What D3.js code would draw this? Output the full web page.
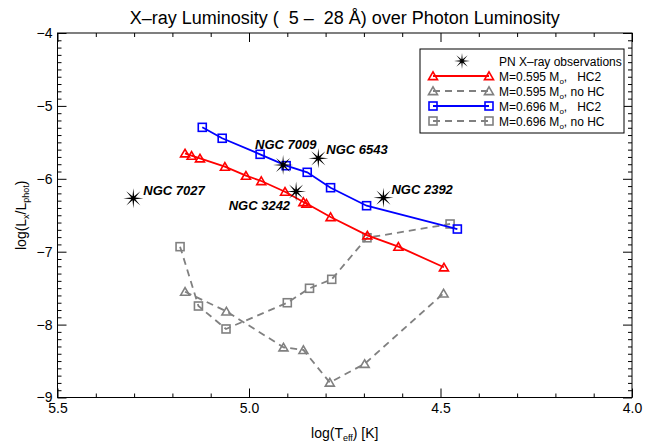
<!DOCTYPE html>
<html>
<head>
<meta charset="utf-8">
<script src="https://cdn.jsdelivr.net/npm/d3@7"></script>
<style>
  body { margin: 0; background: #fff; }
  svg { font-family: "Liberation Sans", Arial, Helvetica, sans-serif; }
</style>
</head>
<body>
<svg id="chart" width="659" height="444"></svg>
<script>
// model tracks: log(Teff), log(Lx/Lphot)
var hc2_595 = [[5.167, -5.650], [5.150, -5.683], [5.128, -5.719], [5.063, -5.834], [5.008, -5.957],
    [4.968, -6.030], [4.906, -6.177], [4.858, -6.318], [4.850, -6.339], [4.787, -6.524],
    [4.691, -6.775], [4.610, -6.931], [4.491, -7.214]];
var nohc_595 = [[5.167, -7.549], [5.059, -7.818], [4.910, -8.311], [4.858, -8.348], [4.789, -8.794],
    [4.698, -8.538], [4.492, -7.571]];
var hc2_696 = [[5.122, -5.294], [5.070, -5.444], [4.971, -5.664], [4.903, -5.820], [4.848, -5.911],
    [4.787, -6.122], [4.693, -6.369], [4.456, -6.689]];
var nohc_696 = [[5.180, -6.931], [5.132, -7.745], [5.060, -8.060], [4.900, -7.700], [4.842, -7.502],
    [4.784, -7.379], [4.692, -6.809], [4.475, -6.620]];

// observed planetary nebulae
var pnNames = ["NGC 7027", "NGC 7009", "NGC 6543", "NGC 3242", "NGC 2392"];
var pnTeff = [5.302, 4.911, 4.819, 4.877, 4.649];
var pnLx = [-6.268, -5.811, -5.719, -6.174, -6.259];

var xTicks = [5.5, 5.0, 4.5, 4.0];
var yTicks = [-9, -8, -7, -6, -5, -4];

(function() {
var svg = d3.select("#chart");
var pL = 57.5, pR = 632, pT = 33, pB = 397.5;

var x = d3.scaleLinear().domain([5.5, 4.0]).range([pL, pR]),
    y = d3.scaleLinear().domain([-9, -4]).range([pB, pT]);

var xMinor = d3.range(41, 55).map(function(d) { return d / 10; }).filter(function(d) { return xTicks.indexOf(d) < 0; }),
    yMinor = d3.range(-89, -40).filter(function(d) { return d % 10 !== 0; }).map(function(d) { return d / 10; });

function styleAxis(g) {
    g.select(".domain").remove();
    g.selectAll("line").attr("stroke", "#000").attr("stroke-width", 1);
    g.selectAll("text").attr("fill", "#000").style("font-size", "14px");
}

// bottom / top
svg.append("g").attr("transform", "translate(0," + pB + ")")
    .call(d3.axisBottom(x).tickValues(xTicks).tickFormat(d3.format(".1f")).tickSizeInner(-9).tickSizeOuter(0).tickPadding(6))
    .call(styleAxis);
svg.append("g").attr("transform", "translate(0," + pB + ")")
    .call(d3.axisBottom(x).tickValues(xMinor).tickFormat("").tickSizeInner(-4).tickSizeOuter(0))
    .call(styleAxis);
svg.append("g").attr("transform", "translate(0," + pT + ")")
    .call(d3.axisTop(x).tickValues(xTicks).tickFormat("").tickSizeInner(-9).tickSizeOuter(0))
    .call(styleAxis);
svg.append("g").attr("transform", "translate(0," + pT + ")")
    .call(d3.axisTop(x).tickValues(xMinor).tickFormat("").tickSizeInner(-4).tickSizeOuter(0))
    .call(styleAxis);

// left / right
svg.append("g").attr("transform", "translate(" + pL + ",0)")
    .call(d3.axisLeft(y).tickValues(yTicks).tickFormat(d3.format("d")).tickSizeInner(-9).tickSizeOuter(0).tickPadding(5))
    .call(styleAxis);
svg.append("g").attr("transform", "translate(" + pL + ",0)")
    .call(d3.axisLeft(y).tickValues(yMinor).tickFormat("").tickSizeInner(-4).tickSizeOuter(0))
    .call(styleAxis);
svg.append("g").attr("transform", "translate(" + pR + ",0)")
    .call(d3.axisRight(y).tickValues(yTicks).tickFormat("").tickSizeInner(-9).tickSizeOuter(0))
    .call(styleAxis);
svg.append("g").attr("transform", "translate(" + pR + ",0)")
    .call(d3.axisRight(y).tickValues(yMinor).tickFormat("").tickSizeInner(-4).tickSizeOuter(0))
    .call(styleAxis);

svg.append("rect")
    .attr("x", pL).attr("y", pT)
    .attr("width", pR - pL).attr("height", pB - pT)
    .attr("fill", "none").attr("stroke", "#000").attr("stroke-width", 1);

// titles
svg.append("text")
    .attr("x", (pL + pR) / 2).attr("y", 24)
    .attr("text-anchor", "middle")
    .style("font-size", "18px")
    .text("X\u2013ray Luminosity (\u00a0 5 \u2013\u00a0 28 \u00c5) over Photon Luminosity");

var xt = svg.append("text")
    .attr("x", (pL + pR) / 2).attr("y", 438)
    .attr("text-anchor", "middle")
    .style("font-size", "14px");
xt.append("tspan").text("log(T");
xt.append("tspan").attr("dy", 3).style("font-size", "9px").text("eff");
xt.append("tspan").attr("dy", -3).text(") [K]");

var yt = svg.append("text")
    .attr("transform", "translate(26," + ((pT + pB) / 2) + ") rotate(-90)")
    .attr("text-anchor", "middle")
    .style("font-size", "14px");
yt.append("tspan").text("log(L");
yt.append("tspan").attr("dy", 3).style("font-size", "9px").text("x");
yt.append("tspan").attr("dy", -3).text("/L");
yt.append("tspan").attr("dy", 3).style("font-size", "9px").text("phot");
yt.append("tspan").attr("dy", -3).text(")");

// markers
function triangle(g, cx, cy, color) {
    var s = 4.5;
    g.append("path")
        .attr("d", "M" + (cx - s) + "," + (cy + s * 0.8) + "L" + cx + "," + (cy - s * 0.9) + "L" + (cx + s) + "," + (cy + s * 0.8) + "Z")
        .attr("fill", "none").attr("stroke", color).attr("stroke-width", 1.6);
}
function square(g, cx, cy, color) {
    g.append("rect")
        .attr("x", cx - 4).attr("y", cy - 4).attr("width", 8).attr("height", 8)
        .attr("fill", "none").attr("stroke", color).attr("stroke-width", 1.6);
}
function star(g, cx, cy, r) {
    var pts = [];
    for (var i = 0; i < 16; i++) {
        var a = i * Math.PI / 8,
            rr = (i % 2 === 0) ? r : r * 0.22;
        pts.push([cx + rr * Math.sin(a), cy - rr * Math.cos(a)]);
    }
    g.append("path").attr("d", "M" + pts.join("L") + "Z").attr("fill", "#000");
}

var line = d3.line()
    .x(function(d) { return x(d[0]); })
    .y(function(d) { return y(d[1]); });

var series = [
    { data: nohc_696, color: "#808080", dash: "7,5", mark: square },
    { data: nohc_595, color: "#808080", dash: "7,5", mark: triangle },
    { data: hc2_595, color: "#ff0000", dash: null, mark: triangle },
    { data: hc2_696, color: "#0000ff", dash: null, mark: square }
];

var plot = svg.append("g");
series.forEach(function(s) {
    plot.append("path")
        .datum(s.data)
        .attr("d", line)
        .attr("fill", "none")
        .attr("stroke", s.color)
        .attr("stroke-width", 1.8)
        .attr("stroke-dasharray", s.dash);
    s.data.forEach(function(d) {
        s.mark(plot, x(d[0]), y(d[1]), s.color);
    });
});

// observations
var labelPos = {
    "NGC 7027": [10, -3, "start"],
    "NGC 7009": [-28, -16, "start"],
    "NGC 6543": [8, -4, "start"],
    "NGC 3242": [-6, 19, "end"],
    "NGC 2392": [8, -4, "start"]
};
pnNames.forEach(function(name, i) {
    var cx = x(pnTeff[i]), cy = y(pnLx[i]);
    star(plot, cx, cy, 10);
    var p = labelPos[name];
    plot.append("text")
        .attr("x", cx + p[0]).attr("y", cy + p[1])
        .attr("text-anchor", p[2])
        .style("font-size", "13px")
        .style("font-weight", "bold")
        .style("font-style", "italic")
        .text(name);
});

// legend
var lg = svg.append("g");
lg.append("rect")
    .attr("x", 420).attr("y", 49).attr("width", 204).attr("height", 84)
    .attr("fill", "#fff").attr("stroke", "#000").attr("stroke-width", 1);

var legendRows = [
    { label: ["PN X\u2013ray observations"], type: "star" },
    { label: ["M=0.595 M", "o", ",\u00a0\u00a0 HC2"], s: series[2] },
    { label: ["M=0.595 M", "o", ", no HC"], s: series[1] },
    { label: ["M=0.696 M", "o", ",\u00a0\u00a0 HC2"], s: series[3] },
    { label: ["M=0.696 M", "o", ", no HC"], s: series[0] }
];
legendRows.forEach(function(r, i) {
    var cy = 61 + i * 15;
    if (r.type === "star") {
        star(lg, 462, cy, 8);
    } else {
        lg.append("line")
            .attr("x1", 433).attr("x2", 489).attr("y1", cy).attr("y2", cy)
            .attr("stroke", r.s.color).attr("stroke-width", 1.8)
            .attr("stroke-dasharray", r.s.dash);
        r.s.mark(lg, 433, cy, r.s.color);
        r.s.mark(lg, 489, cy, r.s.color);
    }
    var t = lg.append("text").attr("x", 499).attr("y", cy + 4.5).style("font-size", "12px");
    t.append("tspan").text(r.label[0]);
    if (r.label.length > 1) {
        t.append("tspan").attr("dy", 3).style("font-size", "8px").text(r.label[1]);
        t.append("tspan").attr("dy", -3).text(r.label[2]);
    }
});
})();
</script>
</body>
</html>
